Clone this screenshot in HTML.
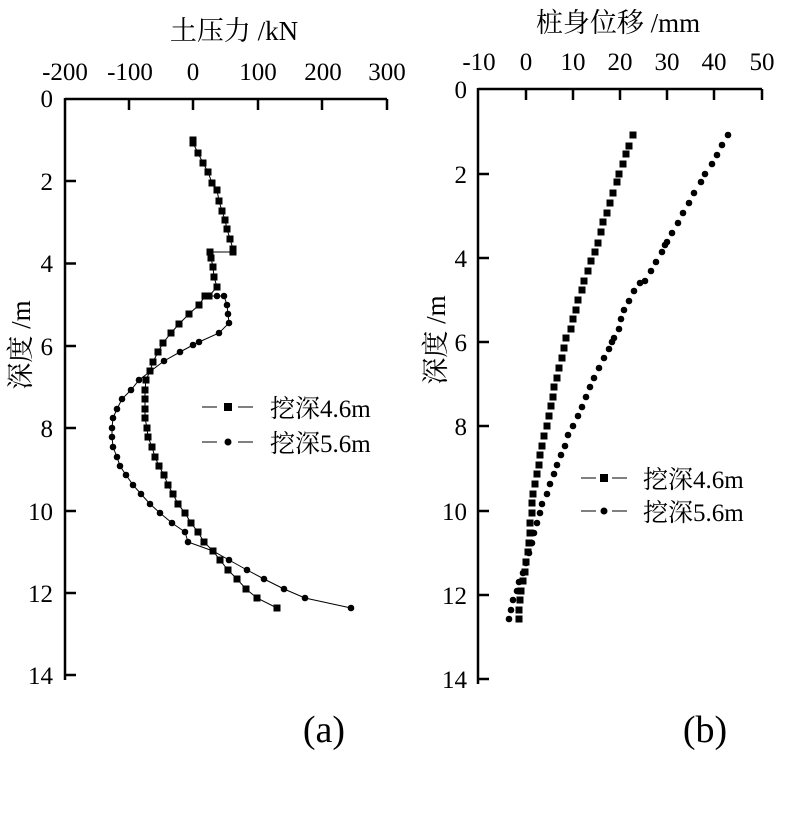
<!DOCTYPE html>
<html><head><meta charset="utf-8"><style>
body{margin:0;background:#fff;}
svg text{font-family:"Liberation Serif","Noto Serif CJK SC",serif;fill:#000;}
</style></head><body>
<svg width="810" height="824" viewBox="0 0 810 824" xmlns="http://www.w3.org/2000/svg">
<!-- Chart A -->
<g stroke="#000" stroke-width="2.5" fill="none">
<path d="M65,99 H387 M65,98 V680"/>
<path d="M129,99 v11 M193,99 v11 M258,99 v11 M322,99 v11 M387,99 v11"/>
<path d="M65,181 h11 M65,263.5 h11 M65,346 h11 M65,428 h11 M65,511 h11 M65,593 h11 M65,675 h11"/>
</g>
<g font-size="25" text-anchor="middle">
<text x="65" y="80">-200</text><text x="130" y="80">-100</text><text x="193" y="80">0</text><text x="258" y="80">100</text><text x="323" y="80">200</text><text x="387" y="80">300</text>
</g>
<g font-size="25" text-anchor="end">
<text x="53" y="107">0</text><text x="53" y="190">2</text><text x="53" y="272">4</text><text x="53" y="355">6</text><text x="53" y="437">8</text><text x="53" y="520">10</text><text x="53" y="602">12</text><text x="53" y="684">14</text>
</g>
<text x="234" y="40" font-size="27" text-anchor="middle">土压力 /kN</text>
<text transform="translate(30,345) rotate(-90)" font-size="27" text-anchor="middle">深度 /m</text>
<text x="324" y="742" font-size="38" text-anchor="middle">(a)</text>
<!-- series A squares -->
<polyline fill="none" stroke="#000" stroke-width="1" points="193,140 193,143 198,153 203,163 208,172 212,183 217,190 219,201 222,211 225,220 227,229 230,239 233,249 233,252 210,252 211,258 213,267 214,277 217,287 209,296 205,296 199,305 189,314 179,324 171,333 163,343 158,352 153,362 150,371 146,380 145,390 145,399 145,409 145,418 147,428 148,437 152,447 155,457 159,466 164,475 168,485 173,494 178,504 185,513 191,523 198,532 204,542 213,551 220,560 228,570 237,579 246,589 257,598 277,608"/>
<g fill="#000">
<rect x="189.5" y="136.5" width="7" height="7"/><rect x="189.5" y="139.5" width="7" height="7"/><rect x="194.5" y="149.5" width="7" height="7"/><rect x="199.5" y="159.5" width="7" height="7"/><rect x="204.5" y="168.5" width="7" height="7"/><rect x="208.5" y="179.5" width="7" height="7"/><rect x="213.5" y="186.5" width="7" height="7"/><rect x="215.5" y="197.5" width="7" height="7"/><rect x="218.5" y="207.5" width="7" height="7"/><rect x="221.5" y="216.5" width="7" height="7"/><rect x="223.5" y="225.5" width="7" height="7"/><rect x="226.5" y="235.5" width="7" height="7"/><rect x="229.5" y="245.5" width="7" height="7"/><rect x="229.5" y="248.5" width="7" height="7"/><rect x="206.5" y="248.5" width="7" height="7"/><rect x="207.5" y="254.5" width="7" height="7"/><rect x="209.5" y="263.5" width="7" height="7"/><rect x="210.5" y="273.5" width="7" height="7"/><rect x="213.5" y="283.5" width="7" height="7"/><rect x="205.5" y="292.5" width="7" height="7"/><rect x="201.5" y="292.5" width="7" height="7"/><rect x="195.5" y="301.5" width="7" height="7"/><rect x="185.5" y="310.5" width="7" height="7"/><rect x="175.5" y="320.5" width="7" height="7"/><rect x="167.5" y="329.5" width="7" height="7"/><rect x="159.5" y="339.5" width="7" height="7"/><rect x="154.5" y="348.5" width="7" height="7"/><rect x="149.5" y="358.5" width="7" height="7"/><rect x="146.5" y="367.5" width="7" height="7"/><rect x="142.5" y="376.5" width="7" height="7"/><rect x="141.5" y="386.5" width="7" height="7"/><rect x="141.5" y="395.5" width="7" height="7"/><rect x="141.5" y="405.5" width="7" height="7"/><rect x="141.5" y="414.5" width="7" height="7"/><rect x="143.5" y="424.5" width="7" height="7"/><rect x="144.5" y="433.5" width="7" height="7"/><rect x="148.5" y="443.5" width="7" height="7"/><rect x="151.5" y="453.5" width="7" height="7"/><rect x="155.5" y="462.5" width="7" height="7"/><rect x="160.5" y="471.5" width="7" height="7"/><rect x="164.5" y="481.5" width="7" height="7"/><rect x="169.5" y="490.5" width="7" height="7"/><rect x="174.5" y="500.5" width="7" height="7"/><rect x="181.5" y="509.5" width="7" height="7"/><rect x="187.5" y="519.5" width="7" height="7"/><rect x="194.5" y="528.5" width="7" height="7"/><rect x="200.5" y="538.5" width="7" height="7"/><rect x="209.5" y="547.5" width="7" height="7"/><rect x="216.5" y="556.5" width="7" height="7"/><rect x="224.5" y="566.5" width="7" height="7"/><rect x="233.5" y="575.5" width="7" height="7"/><rect x="242.5" y="585.5" width="7" height="7"/><rect x="253.5" y="594.5" width="7" height="7"/><rect x="273.5" y="604.5" width="7" height="7"/>
</g>
<!-- series A circles -->
<polyline fill="none" stroke="#000" stroke-width="1" points="205,296 217,296 224,296 227,305 228,314 229,323 219,333 199,342 193,345 180,352 164,361 139,380 131,390 122,399 117,409 113,418 112,428 112,437 113,447 117,457 120,466 126,475 133,485 141,494 150,504 160,513 172,523 185,532 188,542 213,551 229,560 247,570 264,579 284,589 305,598 351,608"/>
<g fill="#000">
<circle cx="217" cy="296" r="3.3"/><circle cx="224" cy="296" r="3.3"/><circle cx="227" cy="305" r="3.3"/><circle cx="228" cy="314" r="3.3"/><circle cx="229" cy="323" r="3.3"/><circle cx="219" cy="333" r="3.3"/><circle cx="199" cy="342" r="3.3"/><circle cx="193" cy="345" r="3.3"/><circle cx="180" cy="352" r="3.3"/><circle cx="164" cy="361" r="3.3"/><circle cx="139" cy="380" r="3.3"/><circle cx="131" cy="390" r="3.3"/><circle cx="122" cy="399" r="3.3"/><circle cx="117" cy="409" r="3.3"/><circle cx="113" cy="418" r="3.3"/><circle cx="112" cy="428" r="3.3"/><circle cx="112" cy="437" r="3.3"/><circle cx="113" cy="447" r="3.3"/><circle cx="117" cy="457" r="3.3"/><circle cx="120" cy="466" r="3.3"/><circle cx="126" cy="475" r="3.3"/><circle cx="133" cy="485" r="3.3"/><circle cx="141" cy="494" r="3.3"/><circle cx="150" cy="504" r="3.3"/><circle cx="160" cy="513" r="3.3"/><circle cx="172" cy="523" r="3.3"/><circle cx="185" cy="532" r="3.3"/><circle cx="188" cy="542" r="3.3"/><circle cx="213" cy="551" r="3.3"/><circle cx="229" cy="560" r="3.3"/><circle cx="247" cy="570" r="3.3"/><circle cx="264" cy="579" r="3.3"/><circle cx="284" cy="589" r="3.3"/><circle cx="305" cy="598" r="3.3"/><circle cx="351" cy="608" r="3.3"/>
</g>
<!-- legend A -->
<g stroke="#000" stroke-width="1"><path d="M202,407 h15 M238,407 h15 M202,442 h15 M238,442 h15"/></g>
<rect x="224" y="403" width="8" height="8"/><circle cx="228" cy="442" r="3.5"/>
<text x="270" y="417" font-size="25">挖深4.6m</text>
<text x="270" y="452" font-size="25">挖深5.6m</text>

<!-- Chart B -->
<g stroke="#000" stroke-width="2.5" fill="none">
<path d="M478,89 H762 M478,88 V684"/>
<path d="M526,89 v11 M573,89 v11 M620,89 v11 M667,89 v11 M714,89 v11 M762,89 v11"/>
<path d="M478,174 h11 M478,258 h11 M478,342 h11 M478,426 h11 M478,511 h11 M478,595 h11 M478,679 h11"/>
</g>
<g font-size="25" text-anchor="middle">
<text x="479" y="70">-10</text><text x="526" y="70">0</text><text x="573" y="70">10</text><text x="620" y="70">20</text><text x="667" y="70">30</text><text x="714" y="70">40</text><text x="762" y="70">50</text>
</g>
<g font-size="25" text-anchor="end">
<text x="467" y="98">0</text><text x="467" y="183">2</text><text x="467" y="267">4</text><text x="467" y="351">6</text><text x="467" y="435">8</text><text x="467" y="520">10</text><text x="467" y="604">12</text><text x="467" y="688">14</text>
</g>
<text x="618" y="32" font-size="27" text-anchor="middle">桩身位移 /mm</text>
<text transform="translate(445,340) rotate(-90)" font-size="27" text-anchor="middle">深度 /m</text>
<text x="705" y="742" font-size="38" text-anchor="middle">(b)</text>
<g fill="#000">
<rect x="629.5" y="131.5" width="7" height="7"/><rect x="625.5" y="142.5" width="7" height="7"/><rect x="622.5" y="150.5" width="7" height="7"/><rect x="619.5" y="160.5" width="7" height="7"/><rect x="615.5" y="170.5" width="7" height="7"/><rect x="613.5" y="178.5" width="7" height="7"/><rect x="609.5" y="189.5" width="7" height="7"/><rect x="606.5" y="199.5" width="7" height="7"/><rect x="603.5" y="209.5" width="7" height="7"/><rect x="599.5" y="218.5" width="7" height="7"/><rect x="597.5" y="228.5" width="7" height="7"/><rect x="594.5" y="239.5" width="7" height="7"/><rect x="591.5" y="248.5" width="7" height="7"/><rect x="587.5" y="257.5" width="7" height="7"/><rect x="584.5" y="267.5" width="7" height="7"/><rect x="580.5" y="277.5" width="7" height="7"/><rect x="578.5" y="286.5" width="7" height="7"/><rect x="574.5" y="296.5" width="7" height="7"/><rect x="572.5" y="306.5" width="7" height="7"/><rect x="569.5" y="315.5" width="7" height="7"/><rect x="567.5" y="325.5" width="7" height="7"/><rect x="562.5" y="334.5" width="7" height="7"/><rect x="560.5" y="344.5" width="7" height="7"/><rect x="558.5" y="354.5" width="7" height="7"/><rect x="555.5" y="364.5" width="7" height="7"/><rect x="553.5" y="374.5" width="7" height="7"/><rect x="550.5" y="383.5" width="7" height="7"/><rect x="549.5" y="393.5" width="7" height="7"/><rect x="547.5" y="402.5" width="7" height="7"/><rect x="545.5" y="412.5" width="7" height="7"/><rect x="543.5" y="422.5" width="7" height="7"/><rect x="540.5" y="432.5" width="7" height="7"/><rect x="538.5" y="442.5" width="7" height="7"/><rect x="536.5" y="451.5" width="7" height="7"/><rect x="535.5" y="461.5" width="7" height="7"/><rect x="533.5" y="470.5" width="7" height="7"/><rect x="531.5" y="480.5" width="7" height="7"/><rect x="529.5" y="490.5" width="7" height="7"/><rect x="528.5" y="499.5" width="7" height="7"/><rect x="528.5" y="509.5" width="7" height="7"/><rect x="526.5" y="519.5" width="7" height="7"/><rect x="526.5" y="529.5" width="7" height="7"/><rect x="525.5" y="539.5" width="7" height="7"/><rect x="524.5" y="548.5" width="7" height="7"/><rect x="522.5" y="558.5" width="7" height="7"/><rect x="521.5" y="568.5" width="7" height="7"/><rect x="519.5" y="577.5" width="7" height="7"/><rect x="517.5" y="587.5" width="7" height="7"/><rect x="516.5" y="596.5" width="7" height="7"/><rect x="515.5" y="606.5" width="7" height="7"/><rect x="515.5" y="615.5" width="7" height="7"/>
</g>
<g fill="#000">
<circle cx="728" cy="135" r="3.3"/><circle cx="722" cy="145" r="3.3"/><circle cx="717" cy="155" r="3.3"/><circle cx="712" cy="164" r="3.3"/><circle cx="705" cy="174" r="3.3"/><circle cx="701" cy="182" r="3.3"/><circle cx="694" cy="193" r="3.3"/><circle cx="689" cy="203" r="3.3"/><circle cx="683" cy="213" r="3.3"/><circle cx="678" cy="223" r="3.3"/><circle cx="672" cy="233" r="3.3"/><circle cx="667" cy="242" r="3.3"/><circle cx="665" cy="245" r="3.3"/><circle cx="662" cy="252" r="3.3"/><circle cx="656" cy="262" r="3.3"/><circle cx="651" cy="271" r="3.3"/><circle cx="645" cy="281" r="3.3"/><circle cx="640" cy="283" r="3.3"/><circle cx="634" cy="291" r="3.3"/><circle cx="629" cy="301" r="3.3"/><circle cx="624" cy="310" r="3.3"/><circle cx="621" cy="319" r="3.3"/><circle cx="619" cy="329" r="3.3"/><circle cx="614" cy="338" r="3.3"/><circle cx="612" cy="342" r="3.3"/><circle cx="609" cy="349" r="3.3"/><circle cx="604" cy="358" r="3.3"/><circle cx="599" cy="368" r="3.3"/><circle cx="594" cy="378" r="3.3"/><circle cx="590" cy="387" r="3.3"/><circle cx="586" cy="397" r="3.3"/><circle cx="582" cy="407" r="3.3"/><circle cx="578" cy="416" r="3.3"/><circle cx="573" cy="426" r="3.3"/><circle cx="568" cy="435" r="3.3"/><circle cx="565" cy="446" r="3.3"/><circle cx="561" cy="455" r="3.3"/><circle cx="557" cy="465" r="3.3"/><circle cx="554" cy="474" r="3.3"/><circle cx="550" cy="484" r="3.3"/><circle cx="547" cy="494" r="3.3"/><circle cx="542" cy="504" r="3.3"/><circle cx="540" cy="513" r="3.3"/><circle cx="537" cy="523" r="3.3"/><circle cx="534" cy="533" r="3.3"/><circle cx="532" cy="543" r="3.3"/><circle cx="529" cy="553" r="3.3"/><circle cx="526" cy="563" r="3.3"/><circle cx="523" cy="573" r="3.3"/><circle cx="519" cy="582" r="3.3"/><circle cx="517" cy="591" r="3.3"/><circle cx="513" cy="600" r="3.3"/><circle cx="511" cy="610" r="3.3"/><circle cx="509" cy="619" r="3.3"/>
</g>
<g stroke="#000" stroke-width="1"><path d="M581,478 h15 M612,478 h15 M581,511 h15 M612,511 h15"/></g>
<rect x="600" y="474" width="8" height="8"/><circle cx="604" cy="511" r="3.5"/>
<text x="643" y="488" font-size="25">挖深4.6m</text>
<text x="643" y="521" font-size="25">挖深5.6m</text>
</svg>
</body></html>
